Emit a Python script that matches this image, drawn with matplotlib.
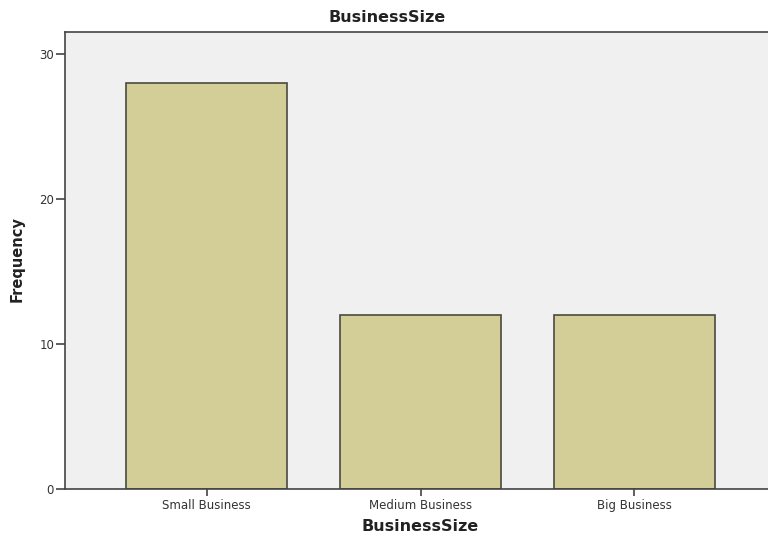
import matplotlib.pyplot as plt

# Frequencies per business size
categories = ["Small Business", "Medium Business", "Big Business"]
counts = [28, 12, 12]
yticks = [0, 10, 20, 30]

fig = plt.figure(figsize=(7.68, 5.41), dpi=100)
W, H = 768, 541
left, right, top, bottom = 64.5, 776.5, 31.5, 489
ax = fig.add_axes([left / W, 1 - bottom / H, (right - left) / W, (bottom - top) / H])
ax.set_facecolor("#f0f0f0")

x = range(len(categories))
ax.bar(x, counts, width=0.752, color="#d3ce97", edgecolor="#4a4a40", linewidth=1.2, zorder=2)

ax.set_xlim(-0.664, len(categories) - 1 + 0.664)
ax.set_ylim(0, 31.55)
ax.set_yticks(yticks)
ax.set_xticks(list(x))
ax.set_xticklabels(categories)

for s in ["left", "top", "bottom"]:
    ax.spines[s].set_color("#444444")
    ax.spines[s].set_linewidth(1.2)
ax.spines["right"].set_visible(False)

ax.tick_params(axis="y", direction="out", length=6.5, width=1.2, color="#444444",
               labelsize=8.5, labelcolor="#333333", pad=1)
ax.tick_params(axis="x", direction="out", length=5, width=1.2, color="#444444",
               labelsize=8.5, labelcolor="#333333", pad=2)

ax.set_xlabel("BusinessSize", fontsize=11.5, fontweight="bold", color="#222222", labelpad=5)
fig.text(17 / W, 1 - 259 / H, "Frequency", rotation=90, ha="center", va="center",
         fontsize=10.5, fontweight="bold", color="#222222")
fig.text(387 / W, 1 - 17 / H, "BusinessSize", ha="center", va="center",
         fontsize=11.5, fontweight="bold", color="#222222")

fig.savefig("out.png", dpi=100)
